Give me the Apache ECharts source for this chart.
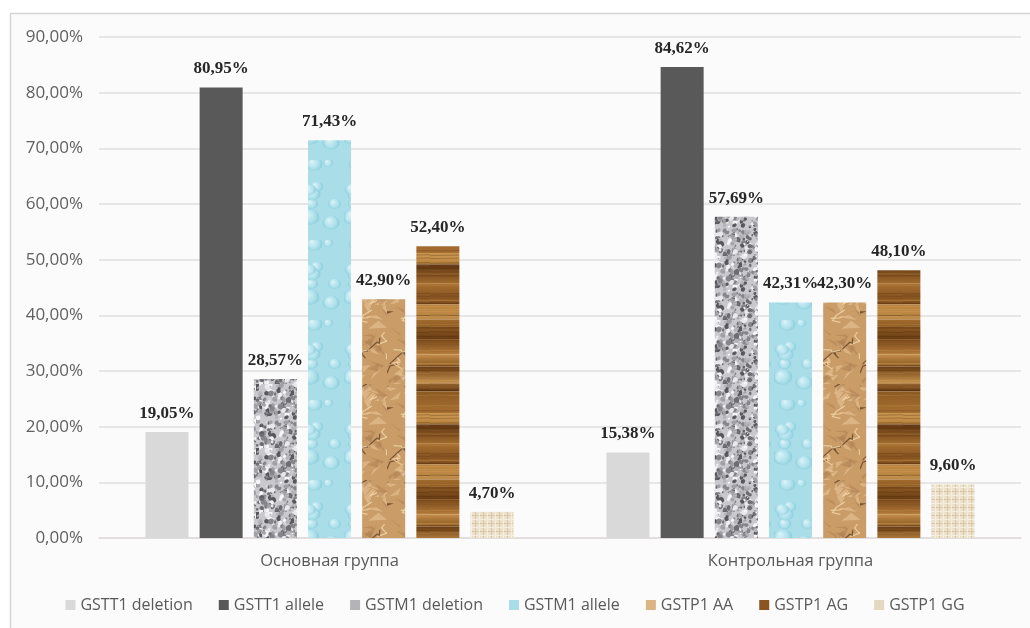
<!DOCTYPE html>
<html>
<head>
<meta charset="utf-8">
<script src="https://cdn.jsdelivr.net/npm/echarts@6/dist/echarts.min.js"></script>
<style>
  html, body { margin: 0; padding: 0; background: #ffffff; }
  #chart { width: 1030px; height: 628px; }
</style>
</head>
<body>
<div id="chart"></div>
<script>
// Genotype frequencies, % of each group
const categories = ['Основная группа', 'Контрольная группа'];
const seriesNames = ['GSTT1 deletion', 'GSTT1 allele', 'GSTM1 deletion', 'GSTM1 allele', 'GSTP1 AA', 'GSTP1 AG', 'GSTP1 GG'];
const gstt1Deletion = [19.05, 15.38];
const gstt1Allele   = [80.95, 84.62];
const gstm1Deletion = [28.57, 57.69];
const gstm1Allele   = [71.43, 42.31];
const gstp1AA       = [42.90, 42.30];
const gstp1AG       = [52.40, 48.10];
const gstp1GG       = [4.70, 9.60];
const yTicks = [0, 10, 20, 30, 40, 50, 60, 70, 80, 90];

// Seeded generator for texture grain only
let seed = 12345;
function rnd() { seed = (seed * 16807) % 2147483647; return seed / 2147483647; }

function tile(w, h, draw) {
  const c = document.createElement('canvas');
  c.width = w; c.height = h;
  draw(c.getContext('2d'), w, h);
  return { image: c, repeat: 'repeat' };
}

// Granite speckle
const granite = tile(64, 64, (g, w, h) => {
  g.fillStyle = '#c9c9cd'; g.fillRect(0, 0, w, h);
  const tones = ['#6d6d73', '#85858b', '#a0a0a6', '#e9e9ec', '#f5f5f7', '#b3b3b8', '#58585e'];
  for (let i = 0; i < 420; i++) {
    g.fillStyle = tones[Math.floor(rnd() * tones.length)];
    const x = rnd() * w, y = rnd() * h, r = 0.6 + rnd() * 2.2;
    g.beginPath(); g.ellipse(x, y, r, r * (0.6 + rnd() * 0.6), rnd() * 3, 0, Math.PI * 2); g.fill();
  }
});

// Water drops on light blue
const water = tile(43, 80, (g, w, h) => {
  g.fillStyle = '#a9dde8'; g.fillRect(0, 0, w, h);
  for (let i = 0; i < 10; i++) {
    const x = rnd() * w, y = rnd() * h, r = 4 + rnd() * 6;
    const gr = g.createRadialGradient(x - r * 0.3, y - r * 0.3, 0.5, x, y, r);
    gr.addColorStop(0, 'rgba(225,245,250,0.9)');
    gr.addColorStop(0.6, 'rgba(180,228,238,0.7)');
    gr.addColorStop(1, 'rgba(120,195,212,0.6)');
    g.fillStyle = gr;
    g.beginPath(); g.ellipse(x, y, r, r * 0.8, 0, 0, Math.PI * 2); g.fill();
  }
});

// Crumpled kraft paper
const paper = tile(43, 96, (g, w, h) => {
  g.fillStyle = '#c99c68'; g.fillRect(0, 0, w, h);
  for (let i = 0; i < 40; i++) {
    g.fillStyle = rnd() < 0.5 ? 'rgba(235,200,155,0.55)' : 'rgba(170,125,80,0.45)';
    g.beginPath();
    const x = rnd() * w, y = rnd() * h;
    g.moveTo(x, y);
    g.lineTo(x + (rnd() - 0.5) * 24, y + (rnd() - 0.5) * 20);
    g.lineTo(x + (rnd() - 0.5) * 24, y + (rnd() - 0.5) * 20);
    g.closePath(); g.fill();
  }
  g.lineWidth = 1.2;
  for (let i = 0; i < 16; i++) {
    g.strokeStyle = rnd() < 0.6 ? 'rgba(95,60,30,0.75)' : 'rgba(245,215,170,0.8)';
    g.beginPath();
    let x = rnd() * w, y = rnd() * h;
    g.moveTo(x, y);
    for (let k = 0; k < 3; k++) { x += (rnd() - 0.5) * 18; y += (rnd() - 0.3) * 10; g.lineTo(x, y); }
    g.stroke();
  }
});

// Wood grain, horizontal bands
const wood = tile(43, 160, (g, w, h) => {
  const bands = ['#a06a2c', '#7a4818', '#c08a48', '#6a3c12', '#b27a3a', '#8c5a22', '#c89450', '#5e3410', '#a87032', '#b8843e'];
  let y = 0, i = 0;
  while (y < h) {
    const bh = 6 + rnd() * 16;
    const gr = g.createLinearGradient(0, y, 0, y + bh);
    gr.addColorStop(0, bands[i % bands.length]);
    gr.addColorStop(1, bands[(i + 3) % bands.length]);
    g.fillStyle = gr;
    g.fillRect(0, y, w, bh);
    y += bh; i++;
  }
  for (let k = 0; k < 50; k++) {
    g.strokeStyle = rnd() < 0.5 ? 'rgba(60,30,8,0.3)' : 'rgba(230,180,110,0.25)';
    g.lineWidth = 0.8;
    const yy = rnd() * h;
    g.beginPath(); g.moveTo(0, yy); g.lineTo(w, yy + (rnd() - 0.5) * 2); g.stroke();
  }
});

// Burlap weave
const burlap = tile(8, 8, (g, w, h) => {
  g.fillStyle = '#ece2cc'; g.fillRect(0, 0, w, h);
  g.fillStyle = '#d6c7a6';
  g.fillRect(0, 3, w, 1); g.fillRect(3, 0, 1, h);
  g.fillStyle = '#f6efdf';
  g.fillRect(0, 7, w, 1); g.fillRect(7, 0, 1, h);
});

const fills = ['#d9d9d9', '#595959', granite, water, paper, wood, burlap];
const legendColors = ['#d9d9d9', '#595959', '#b4b4b8', '#a9dde8', '#dcb483', '#8a5522', '#e3d8c0'];
const values = [gstt1Deletion, gstt1Allele, gstm1Deletion, gstm1Allele, gstp1AA, gstp1AG, gstp1GG];

function pct(v) { return v.toFixed(2).replace('.', ',') + '%'; }

const chart = echarts.init(document.getElementById('chart'), null, { renderer: 'canvas' });
chart.setOption({
  backgroundColor: '#ffffff',
  animation: false,
  graphic: [{
    type: 'rect', z: -10, silent: true,
    shape: { x: 10.5, y: 13.5, width: 1040, height: 640 },
    style: { fill: '#fbfbfb', stroke: '#d8d4d4', lineWidth: 1.5 }
  }],
  grid: { left: 99, right: 9, top: 37, bottom: 90, containLabel: false },
  legend: {
    bottom: 10,
    left: 'center',
    itemWidth: 10, itemHeight: 10, itemGap: 26,
    icon: 'rect',
    textStyle: { color: '#595959', fontSize: 16, fontFamily: 'Open Sans' },
    data: seriesNames.map((n, i) => ({ name: n, itemStyle: { color: legendColors[i] } }))
  },
  xAxis: {
    type: 'category',
    data: categories,
    axisLine: { lineStyle: { color: '#e0dcdc', width: 1.5 } },
    axisTick: { show: false },
    axisLabel: { color: '#595959', fontSize: 16.5, fontFamily: 'Open Sans', margin: 15 }
  },
  yAxis: {
    type: 'value',
    min: yTicks[0], max: yTicks[yTicks.length - 1], interval: 10,
    axisLine: { show: false },
    axisTick: { show: false },
    splitLine: { lineStyle: { color: '#e2dede', width: 1.5 } },
    axisLabel: {
      color: '#606060', fontSize: 17, fontFamily: 'Open Sans', margin: 16,
      formatter: v => pct(v)
    }
  },
  series: seriesNames.map((name, i) => ({
    name,
    type: 'bar',
    barWidth: 43,
    barGap: '26%',
    data: values[i],
    itemStyle: { color: fills[i] },
    label: {
      show: true,
      position: 'top',
      distance: 10,
      color: '#262626',
      fontSize: 17,
      fontWeight: 'bold',
      fontFamily: 'Liberation Serif',
      formatter: p => pct(p.value)
    }
  }))
});
</script>
</body>
</html>
